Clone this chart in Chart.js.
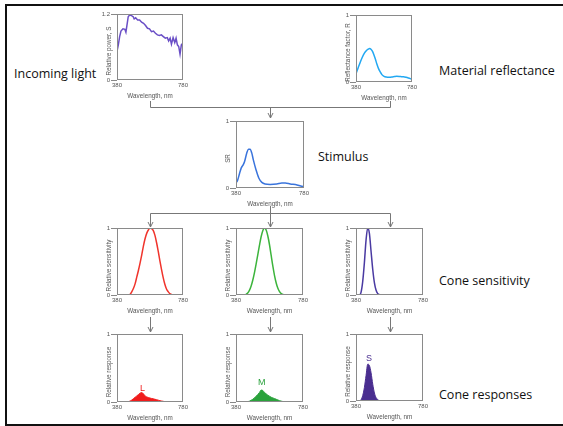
<!DOCTYPE html>
<html><head><meta charset="utf-8">
<script src="https://cdn.jsdelivr.net/npm/chart.js@4/dist/chart.umd.min.js"></script>
<style>
html,body{margin:0;padding:0;background:#fff;}
body{width:563px;height:426px;position:relative;overflow:hidden;font-family:"Open Sans",sans-serif;}
.frame{position:absolute;left:5px;top:4px;width:600px;height:418px;border:2px solid #111;}
canvas{position:absolute;}
.lbl{position:absolute;font-size:12.5px;color:#111;white-space:nowrap;line-height:1;}
svg{position:absolute;left:0;top:0;}
</style></head><body>
<div class="frame"></div>
<svg width="563" height="426" fill="none" stroke="#777" stroke-width="1">
  <path d="M150.5,101 V107.5 H390.5 V101"/>
  <path d="M270.5,107.5 V118 M268,113 L270.5,118 L273,113"/>
  <path d="M270.5,206 V213.5 M150.5,213.5 H390.5"/>
  <path d="M150.5,213.5 V227 M148,222 L150.5,227 L153,222"/>
  <path d="M270.5,213.5 V227 M268,222 L270.5,227 L273,222"/>
  <path d="M390.5,213.5 V227 M388,222 L390.5,227 L393,222"/>
  <path d="M150.5,317 V332 M148,327 L150.5,332 L153,327"/>
  <path d="M270.5,317 V332 M268,327 L270.5,332 L273,327"/>
  <path d="M390.5,317 V332 M388,327 L390.5,332 L393,327"/>
</svg>
<div class="lbl" style="left:14px;top:68px">Incoming light</div>
<div class="lbl" style="left:439px;top:65px">Material reflectance</div>
<div class="lbl" style="left:318px;top:151px">Stimulus</div>
<div class="lbl" style="left:439px;top:275px">Cone sensitivity</div>
<div class="lbl" style="left:439px;top:389px">Cone responses</div>
<script>
// ---- data ----
const xTicks = [380, 780];
const yTicksPower = [0, 1.2];
const yTicksUnit = [0, 1];

const powerNm = [380,388,396,404,416,428,434,440,448,456,468,478,484,493,505,517,529,541,553,565,577,589,601,613,625,637,649,661,673,685,693,702,710,720,730,738,746,754,762,770,780];
const powerVal = [0.52,0.64,0.79,0.89,0.93,0.92,0.87,0.99,1.15,1.18,1.17,1.15,1.11,1.13,1.09,1.09,1.05,1.03,0.99,0.94,0.93,0.88,0.89,0.85,0.82,0.81,0.82,0.79,0.76,0.77,0.71,0.76,0.65,0.77,0.68,0.76,0.64,0.61,0.47,0.64,0.67];

const reflNm = [380,395,411,425,440,455,467,477,487,497,507,517,529,541,553,565,580,596,616,636,656,671,690,705,719,737,754,768,780];
const reflVal = [0.125,0.21,0.30,0.37,0.43,0.47,0.49,0.50,0.49,0.46,0.41,0.35,0.27,0.20,0.15,0.11,0.085,0.075,0.072,0.075,0.082,0.085,0.083,0.08,0.078,0.07,0.06,0.05,0.04];

const srNm = [380,390,400,411,423,431,443,453,463,473,482,498,514,532,551,581,620,650,670,699,739,780];
const srVal = [0.074,0.12,0.21,0.30,0.35,0.40,0.52,0.58,0.58,0.52,0.42,0.27,0.15,0.084,0.06,0.054,0.06,0.074,0.074,0.06,0.045,0.015];

const coneNm = [380,390,400,410,420,430,440,450,460,470,480,490,500,510,520,530,540,550,560,570,580,590,600,610,620,630,640,650,660,670,680,690,700,710,720,730,740,750,760,770,780];
const lSens = [0,0,0,0,0,0,0,0,0.01,0.05,0.10,0.17,0.27,0.37,0.48,0.60,0.73,0.84,0.92,0.97,1.0,0.99,0.96,0.89,0.78,0.65,0.51,0.38,0.26,0.16,0.09,0.05,0.02,0.01,0,0,0,0,0,0,0];
const mSens = [0,0,0,0,0,0,0.01,0.03,0.07,0.13,0.22,0.33,0.46,0.60,0.74,0.87,0.96,1.0,0.97,0.88,0.75,0.59,0.43,0.29,0.18,0.10,0.05,0.02,0.01,0,0,0,0,0,0,0,0,0,0,0,0];
const sSens = [0,0,0,0.04,0.20,0.48,0.82,1.0,0.92,0.65,0.38,0.18,0.07,0.02,0.005,0,0,0,0,0,0,0,0,0,0,0,0,0,0,0,0,0,0,0,0,0,0,0,0,0,0];
const lResp = [0,0,0,0,0,0,0,0.005,0.015,0.03,0.05,0.07,0.09,0.11,0.13,0.14,0.12,0.09,0.075,0.065,0.058,0.052,0.047,0.04,0.034,0.027,0.02,0.015,0.01,0.006,0.004,0.002,0.001,0,0,0,0,0,0,0,0];
const mResp = [0,0,0,0,0,0,0,0.005,0.012,0.025,0.04,0.06,0.085,0.11,0.14,0.175,0.17,0.14,0.12,0.10,0.085,0.07,0.06,0.05,0.04,0.03,0.02,0.013,0.007,0.003,0.001,0,0,0,0,0,0,0,0,0,0];
const sResp = [0,0,0,0.02,0.08,0.20,0.38,0.55,0.53,0.42,0.25,0.12,0.05,0.02,0.005,0,0,0,0,0,0,0,0,0,0,0,0,0,0,0,0,0,0,0,0,0,0,0,0,0,0];

const respLabels = ['L', 'M', 'S'];
const respLabelNm = [535, 533, 458];
const respLabelVal = [0.20, 0.28, 0.63];

// ---- drawing ----
const YW = 24, PT = 6, PR = 10, XH = 20;
const smallFont = {family: '"Liberation Sans", Arial, sans-serif', size: 6};
const txtColor = '#555';

const boxPlugin = {
  id: 'plotBox',
  afterDatasetsDraw(chart) {
    const a = chart.chartArea, ctx = chart.ctx;
    ctx.save();
    ctx.strokeStyle = '#8a8a8a';
    ctx.lineWidth = 1;
    ctx.strokeRect(Math.round(a.left) + 0.5, Math.round(a.top) + 0.5, Math.round(a.right - a.left) - 1, Math.round(a.bottom - a.top) - 1);
    ctx.restore();
  }
};
const yTitlePlugin = {
  id: 'yTitle',
  afterDraw(chart, args, opts) {
    if (!opts || !opts.text) return;
    const a = chart.chartArea, ctx = chart.ctx;
    ctx.save();
    ctx.translate(a.left - 8, (a.top + a.bottom) / 2 + 4);
    ctx.rotate(-Math.PI / 2);
    ctx.font = '6.3px "Liberation Sans", Arial, sans-serif';
    ctx.fillStyle = txtColor;
    ctx.textAlign = 'center';
    ctx.textBaseline = 'middle';
    ctx.fillText(opts.text, 0, 0);
    ctx.restore();
  }
};
const markPlugin = {
  id: 'peakMark',
  afterDatasetsDraw(chart, args, opts) {
    if (!opts || !opts.text) return;
    const ctx = chart.ctx;
    ctx.save();
    ctx.font = '9px "Liberation Sans", Arial, sans-serif';
    ctx.fillStyle = opts.color;
    ctx.textAlign = 'center';
    ctx.textBaseline = 'middle';
    ctx.fillText(opts.text, chart.scales.x.getPixelForValue(opts.x), chart.scales.y.getPixelForValue(opts.y));
    ctx.restore();
  }
};

function pts(xs, ys) { return xs.map((x, i) => ({x: x, y: ys[i]})); }

function addChart(box, yTicks, yTitle, datasets, mark) {
  const w = YW + (box.r - box.l) + PR, h = PT + (box.b - box.t) + XH;
  const c = document.createElement('canvas');
  c.width = w; c.height = h;
  c.style.left = (box.l - YW) + 'px'; c.style.top = (box.t - PT) + 'px';
  c.style.width = w + 'px'; c.style.height = h + 'px';
  document.body.appendChild(c);
  new Chart(c, {
    type: 'line',
    data: {datasets: datasets},
    options: {
      responsive: false, animation: false, devicePixelRatio: 1,
      layout: {padding: {top: PT, right: PR, left: 0, bottom: 0}},
      elements: {point: {radius: 0}},
      plugins: {legend: {display: false}, tooltip: {enabled: false}, peakMark: mark || {}, yTitle: {text: yTitle}},
      scales: {
        x: {
          type: 'linear', min: 380, max: 780,
          afterBuildTicks: s => { s.ticks = xTicks.map(v => ({value: v})); },
          afterFit: s => { s.height = XH; },
          grid: {display: false, drawTicks: false},
          border: {display: false},
          ticks: {font: smallFont, color: txtColor, padding: 2, maxRotation: 0, autoSkip: false, callback: v => String(v)},
          title: {display: true, text: 'Wavelength, nm', font: {family: smallFont.family, size: 6.3}, color: txtColor, padding: 0}
        },
        y: {
          type: 'linear', min: 0, max: yTicks[yTicks.length - 1],
          afterBuildTicks: s => { s.ticks = yTicks.map(v => ({value: v})); },
          afterFit: s => { s.width = YW; },
          grid: {display: true, drawOnChartArea: false, drawTicks: true, tickLength: 6, color: '#888'},
          border: {display: false},
          ticks: {font: smallFont, color: txtColor, padding: 1, autoSkip: false, callback: v => String(v)},
          title: {display: false}
        }
      }
    },
    plugins: [boxPlugin, markPlugin, yTitlePlugin]
  });
}

function lineDs(xs, ys, color, tension) {
  return {data: pts(xs, ys), borderColor: color, borderWidth: 1.5, tension: tension, fill: false,
          cubicInterpolationMode: tension > 0 ? 'monotone' : 'default'};
}
function fillDs(xs, ys, line, fill) {
  return {data: pts(xs, ys), borderColor: line, borderWidth: 1, backgroundColor: fill, fill: 'origin',
          cubicInterpolationMode: 'monotone'};
}

addChart({l:117,t:14,r:183,b:80}, yTicksPower, 'Relative power, S', [lineDs(powerNm, powerVal, '#6a4fc6', 0)]);
addChart({l:356,t:15,r:412,b:82}, yTicksUnit, 'Reflectance factor, R', [lineDs(reflNm, reflVal, '#22a8f2', 0.4)]);
addChart({l:236,t:121,r:304,b:188}, yTicksUnit, 'SR', [lineDs(srNm, srVal, '#3a74dc', 0.4)]);

addChart({l:117,t:228,r:183,b:295}, yTicksUnit, 'Relative sensitivity', [lineDs(coneNm, lSens, '#f0342c', 0.4)]);
addChart({l:236,t:228,r:303,b:295}, yTicksUnit, 'Relative sensitivity', [lineDs(coneNm, mSens, '#3cb43c', 0.4)]);
addChart({l:356,t:228,r:423,b:295}, yTicksUnit, 'Relative sensitivity', [lineDs(coneNm, sSens, '#4a3aa2', 0.4)]);

addChart({l:117,t:334,r:183,b:402}, yTicksUnit, 'Relative response', [fillDs(coneNm, lResp, '#f01c1c', '#f01c1c')],
  {text: respLabels[0], x: respLabelNm[0], y: respLabelVal[0], color: '#f01c1c'});
addChart({l:236,t:334,r:303,b:402}, yTicksUnit, 'Relative response', [fillDs(coneNm, mResp, '#2aa23c', '#2aa23c')],
  {text: respLabels[1], x: respLabelNm[1], y: respLabelVal[1], color: '#2aa23c'});
addChart({l:356,t:334,r:423,b:401}, yTicksUnit, 'Relative response', [fillDs(coneNm, sResp, '#4a2e90', '#4a2e90')],
  {text: respLabels[2], x: respLabelNm[2], y: respLabelVal[2], color: '#4a2e90'});
</script>
</body></html>
